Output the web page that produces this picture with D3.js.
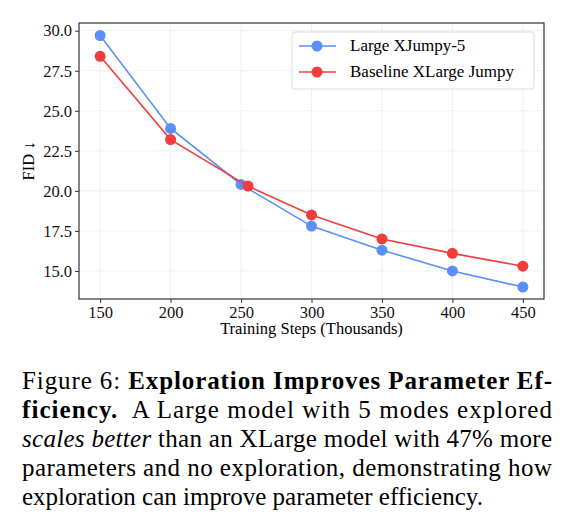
<!DOCTYPE html>
<html><head><meta charset="utf-8">
<script src="https://cdn.jsdelivr.net/npm/d3@7"></script>
<style>body{margin:0;background:#fff}svg,svg text{font-family:"Times New Roman",Times,"Liberation Serif",Tinos,"Nimbus Roman",serif}</style>
</head><body><svg id="c" width="570" height="531"></svg>
<script>
var steps = [150, 200, 250, 300, 350, 400, 450];
var blueVals = [29.7, 23.9, 20.4, 17.8, 16.3, 15.0, 14.0];
var redSteps = [150, 200, 255, 300, 350, 400, 450];
var redVals = [28.4, 23.2, 20.3, 18.5, 17.0, 16.1, 15.3];
var yTicks = [15.0, 17.5, 20.0, 22.5, 25.0, 27.5, 30.0];
var seriesNames = ['Large XJumpy-5', 'Baseline XLarge Jumpy'];

var svg = d3.select('#c');
var L = 79, R = 544, T = 23, B = 299;
var x = d3.scaleLinear().domain([135, 465]).range([L, R]);
var y = d3.scaleLinear().domain([13.25, 30.48]).range([B, T]);

// grid
svg.selectAll('.gx').data(steps).enter().append('line')
  .attr('x1', d => x(d)).attr('x2', d => x(d)).attr('y1', T).attr('y2', B)
  .attr('stroke', '#ebebeb').attr('stroke-width', 0.8);
svg.selectAll('.gy').data(yTicks).enter().append('line')
  .attr('y1', d => y(d)).attr('y2', d => y(d)).attr('x1', L).attr('x2', R)
  .attr('stroke', '#ebebeb').attr('stroke-width', 0.8);

var xa = svg.append('g').attr('transform', 'translate(0,' + B + ')')
  .call(d3.axisBottom(x).tickValues(steps).tickSize(4).tickPadding(3));
var ya = svg.append('g').attr('transform', 'translate(' + L + ',0)')
  .call(d3.axisLeft(y).tickValues(yTicks).tickFormat(d3.format('.1f')).tickSize(4).tickPadding(3));
[xa, ya].forEach(function (a) {
  a.attr('font-family', null);
  a.select('.domain').remove();
  a.selectAll('text').attr('font-size', 16.5).attr('fill', '#111');
  a.selectAll('line').attr('stroke', '#333');
});
svg.append('rect').attr('x', L).attr('y', T).attr('width', R - L).attr('height', B - T)
  .attr('fill', 'none').attr('stroke', '#333').attr('stroke-width', 1.2);

svg.append('text').attr('x', (L + R) / 2).attr('y', 334).attr('text-anchor', 'middle')
  .attr('font-size', 16.5).text('Training Steps (Thousands)');
svg.append('text').attr('transform', 'translate(34,' + ((T + B) / 2) + ') rotate(-90)')
  .attr('text-anchor', 'middle').attr('font-size', 16.5).text('FID ↓');

var line = d3.line().x(d => x(d[0])).y(d => y(d[1]));
var series = [
  {pts: steps.map((s, i) => [s, blueVals[i]]), color: '#5b8ff9'},
  {pts: redSteps.map((s, i) => [s, redVals[i]]), color: '#f23d3d'}
];
series.forEach(function (s) {
  svg.append('path').attr('d', line(s.pts)).attr('fill', 'none')
    .attr('stroke', s.color).attr('stroke-width', 1.6);
  svg.selectAll(null).data(s.pts).enter().append('circle')
    .attr('cx', d => x(d[0])).attr('cy', d => y(d[1])).attr('r', 5.5).attr('fill', s.color);
});

// legend
var lg = svg.append('g');
lg.append('rect').attr('x', 292).attr('y', 32).attr('width', 242).attr('height', 57).attr('rx', 3)
  .attr('fill', '#fff').attr('fill-opacity', 0.85).attr('stroke', '#ddd');
seriesNames.forEach(function (n, i) {
  var yy = 46 + i * 26, c = series[i].color;
  lg.append('line').attr('x1', 299).attr('x2', 336).attr('y1', yy).attr('y2', yy)
    .attr('stroke', c).attr('stroke-width', 1.6);
  lg.append('circle').attr('cx', 317).attr('cy', yy).attr('r', 5.5).attr('fill', c);
  lg.append('text').attr('x', 350).attr('y', yy + 5).attr('font-size', 17).text(n);
});

// caption
var cap = svg.append('g').attr('font-size', 25).attr('fill', '#000');
var lines = [
  [['Figure 6: ', 'normal', 'normal'], ['Exploration Improves Parameter Ef-', 'bold', 'normal']],
  [['ficiency.', 'bold', 'normal'], ['  A Large model with 5 modes explored', 'normal', 'normal']],
  [['scales better', 'normal', 'italic'], [' than an XLarge model with 47% more', 'normal', 'normal']],
  [['parameters and no exploration, demonstrating how', 'normal', 'normal']],
  [['exploration can improve parameter efficiency.', 'normal', 'normal']]
];
lines.forEach(function (ln, i) {
  var t = cap.append('text').attr('x', 22).attr('y', 389 + i * 29).attr('xml:space', 'preserve');
  if (i < 4) t.attr('textLength', 530).attr('lengthAdjust', 'spacing');
  ln.forEach(function (p) {
    t.append('tspan').text(p[0]).attr('font-weight', p[1]).attr('font-style', p[2]);
  });
});
</script></body></html>
